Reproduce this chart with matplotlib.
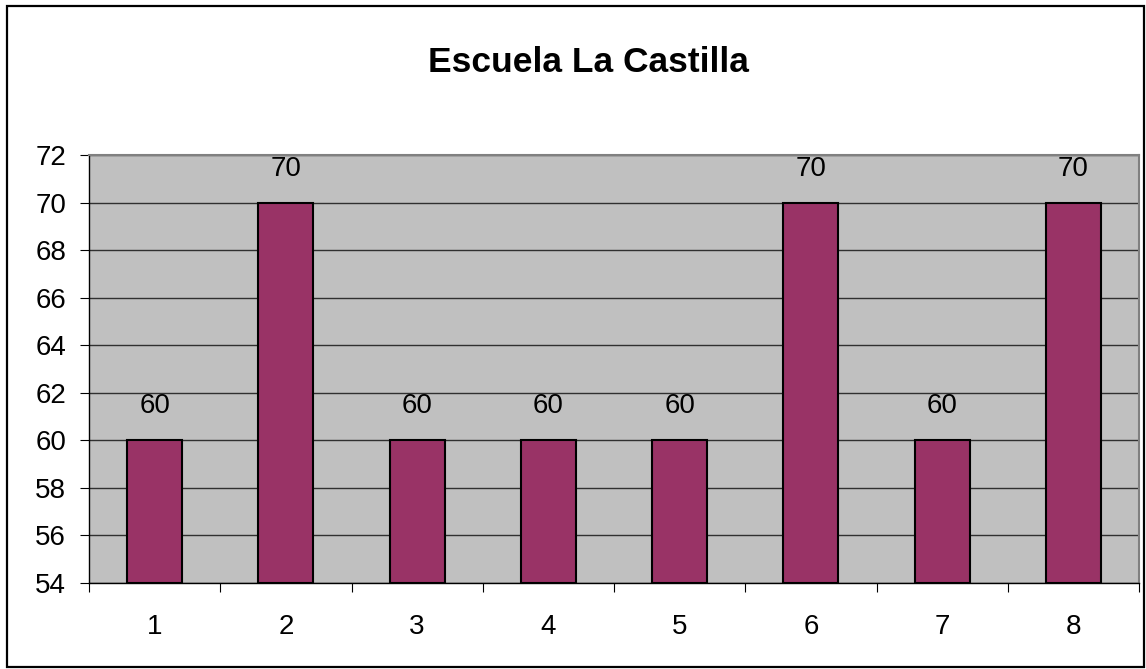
import matplotlib
matplotlib.use("Agg")
import matplotlib.pyplot as plt
from matplotlib.patches import Rectangle

categories = ["1", "2", "3", "4", "5", "6", "7", "8"]
values = [60, 70, 60, 60, 60, 70, 60, 70]
yticks = [54, 56, 58, 60, 62, 64, 66, 68, 70, 72]
title = "Escuela La Castilla"

plt.rcParams['font.family'] = ['Liberation Sans', 'DejaVu Sans']

W, H = 1146, 669
fig = plt.figure(figsize=(W/100, H/100), dpi=100)
fig.patches.append(Rectangle((7/W, 2/H), (1144-7)/W, (661)/H, transform=fig.transFigure,
                             fill=False, edgecolor='black', linewidth=1.6))

ax = fig.add_axes([89/W, (H-583)/H, (1139-89)/W, (583-155)/H])
ax.set_facecolor('#C0C0C0')
x = list(range(len(categories)))
ax.bar(x, [v - 54 for v in values], bottom=54, width=0.42, color='#993366',
       edgecolor='black', linewidth=1.5, zorder=3)
for xi, v in zip(x, values):
    ax.annotate(str(v), (xi, v), xytext=(0, 34), textcoords='offset pixels',
                ha='center', va='center', fontsize=20, zorder=4)
ax.set_ylim(54, 72)
ax.set_xlim(-0.5, len(categories) - 0.5)
ax.set_yticks(yticks)
ax.set_yticklabels([str(t) for t in yticks], fontsize=20)
ax.yaxis.grid(True, color='#303030', linewidth=1.0, zorder=1)
ax.set_axisbelow(True)
ax.set_xticks([i - 0.5 for i in range(len(categories) + 1)])
ax.set_xticklabels([])
ax.set_xticks(x, minor=True)
ax.set_xticklabels(categories, minor=True, fontsize=20)
ax.tick_params(axis='x', which='major', length=6.5, direction='out', color='black')
ax.tick_params(axis='x', which='minor', length=0, pad=22)
ax.tick_params(axis='y', length=6.5, direction='out', color='black', pad=10)
for s in ['top', 'right']:
    ax.spines[s].set_color('#808080')
    ax.spines[s].set_linewidth(1.5)
for s in ['left', 'bottom']:
    ax.spines[s].set_color('black')
    ax.spines[s].set_linewidth(1.0)
fig.text(588/W, (H-72)/H, title, ha='center', va='baseline', fontsize=25.5, fontweight='bold')

fig.savefig("out.png", dpi=100)
